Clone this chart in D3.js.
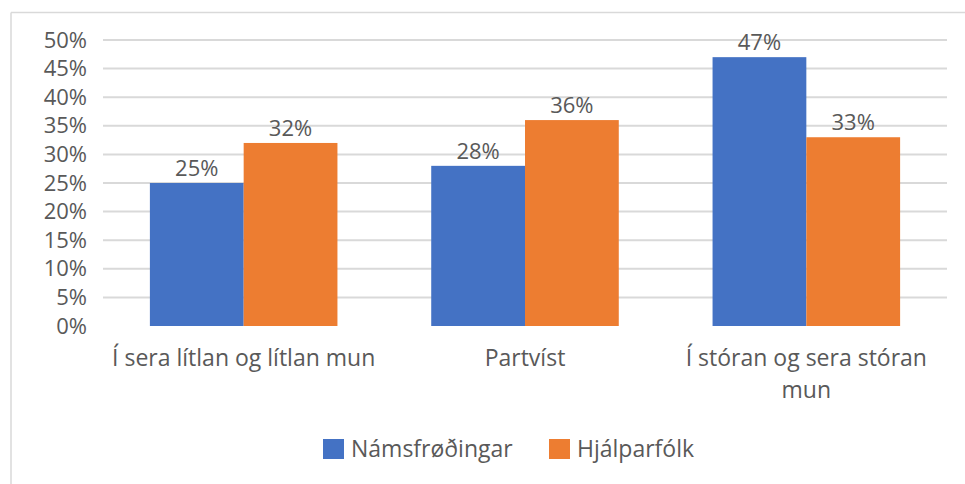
<!DOCTYPE html>
<html>
<head>
<meta charset="utf-8">
<script src="https://cdnjs.cloudflare.com/ajax/libs/d3/7.8.5/d3.min.js"></script>
<style>
  body { margin: 0; background: #fff; }
  svg text { font-family: "Open Sans", "Noto Sans", sans-serif; fill: #595959; }
</style>
</head>
<body>
<svg id="chart"></svg>
<script>
var categories = [["Í sera lítlan og lítlan mun"], ["Partvíst"], ["Í stóran og sera stóran", "mun"]];
var seriesNames = ["Námsfrøðingar", "Hjálparfólk"];
var namsfrodingar = [25, 28, 47];
var hjalparfolk = [32, 36, 33];
var yTicks = [0, 5, 10, 15, 20, 25, 30, 35, 40, 45, 50];

var colors = ["#4472C4", "#ED7D31"];
var fs = 22;

var w = 965, h = 484;
var padding = { top: 40, bottom: 158, left: 103, right: 18 };

var svg = d3.select("#chart").attr("width", w).attr("height", h);

// frame (only top and left edges visible)
svg.append("line").attr("x1", 11).attr("x2", w).attr("y1", 12.5).attr("y2", 12.5)
  .attr("stroke", "#d9d9d9").attr("stroke-width", 1.5);
svg.append("line").attr("x1", 11).attr("x2", 11).attr("y1", 12.5).attr("y2", h)
  .attr("stroke", "#d9d9d9").attr("stroke-width", 1.5);

var data = categories.map(function(c, i) {
  return { cat: i, values: [namsfrodingar[i], hjalparfolk[i]] };
});

var x0 = d3.scaleBand()
  .domain(d3.range(categories.length))
  .range([padding.left, w - padding.right])
  .paddingInner(1/3)
  .paddingOuter(1/6);

var x1 = d3.scaleBand()
  .domain([0, 1])
  .range([0, x0.bandwidth()]);

var y = d3.scaleLinear()
  .domain([0, 50])
  .range([h - padding.bottom, padding.top]);

// gridlines
svg.append("g").selectAll("line")
  .data(yTicks.slice(1))
  .enter().append("line")
  .attr("x1", padding.left).attr("x2", w - padding.right)
  .attr("y1", function(d) { return y(d); })
  .attr("y2", function(d) { return y(d); })
  .attr("stroke", "#d9d9d9").attr("stroke-width", 2);

// y axis labels
var yAxis = d3.axisLeft(y).tickValues(yTicks).tickSize(0).tickPadding(16)
  .tickFormat(function(d) { return d + "%"; });
var yg = svg.append("g").attr("transform", "translate(" + padding.left + ",0)").call(yAxis);
yg.select(".domain").remove();
yg.attr("font-size", null).attr("font-family", null);
yg.selectAll("text").attr("font-size", fs);

// bars
var groups = svg.append("g").selectAll("g")
  .data(data).enter().append("g")
  .attr("transform", function(d) { return "translate(" + x0(d.cat) + ",0)"; });

groups.selectAll("rect")
  .data(function(d) { return d.values; })
  .enter().append("rect")
  .attr("x", function(d, i) { return x1(i); })
  .attr("y", function(d) { return y(d); })
  .attr("width", x1.bandwidth())
  .attr("height", function(d) { return y(0) - y(d); })
  .attr("fill", function(d, i) { return colors[i]; });

groups.selectAll("text.val")
  .data(function(d) { return d.values; })
  .enter().append("text")
  .attr("class", "val")
  .attr("x", function(d, i) { return x1(i) + x1.bandwidth() / 2; })
  .attr("y", function(d) { return y(d) - 7; })
  .attr("text-anchor", "middle")
  .attr("font-size", fs)
  .text(function(d) { return d + "%"; });

// category labels
var catLabels = svg.append("g").selectAll("text")
  .data(categories).enter().append("text")
  .attr("x", function(d, i) { return x0(i) + x0.bandwidth() / 2; })
  .attr("y", y(0) + 40)
  .attr("text-anchor", "middle")
  .attr("font-size", 23);
catLabels.selectAll("tspan")
  .data(function(d) { return d; })
  .enter().append("tspan")
  .attr("x", function() { return this.parentNode.getAttribute("x"); })
  .attr("dy", function(d, i) { return i === 0 ? 0 : 32; })
  .text(function(d) { return d; });

// legend
var legendX = [323, 549];
var legend = svg.append("g").selectAll("g")
  .data(seriesNames).enter().append("g")
  .attr("transform", function(d, i) { return "translate(" + legendX[i] + ",439)"; });
legend.append("rect").attr("width", 21).attr("height", 20)
  .attr("fill", function(d, i) { return colors[i]; });
legend.append("text").attr("x", 28).attr("y", 18)
  .attr("font-size", 23)
  .text(function(d) { return d; });
</script>
</body>
</html>
